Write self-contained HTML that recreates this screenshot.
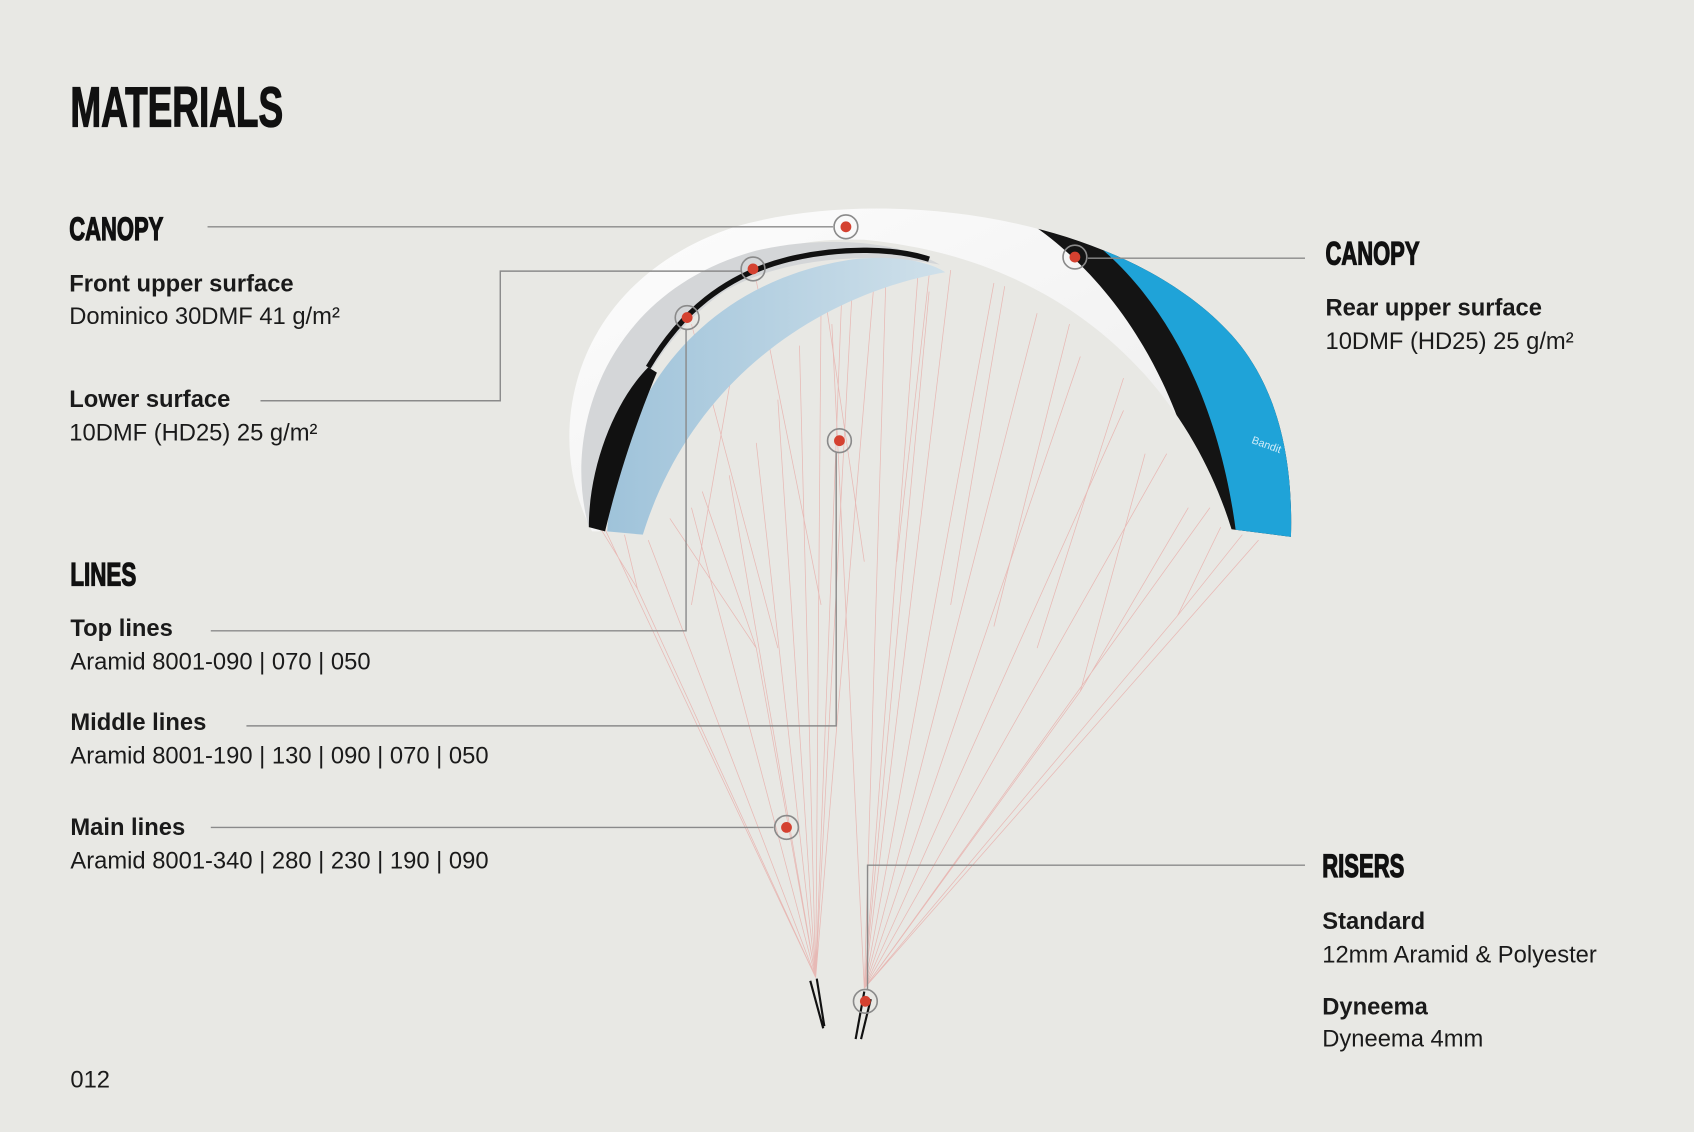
<!DOCTYPE html>
<html><head><meta charset="utf-8"><style>
html,body{margin:0;padding:0;background:#e8e8e4;}
svg{display:block}
.h{font-family:"Liberation Sans Narrow","Liberation Sans",sans-serif;font-weight:bold;fill:#111;stroke:#111;stroke-width:1.2;}
.b{font-family:"Liberation Sans",sans-serif;font-weight:bold;fill:#1a1a1a;font-size:22px;}
.r{font-family:"Liberation Sans",sans-serif;fill:#1a1a1a;font-size:22px;}
.ln{stroke:#8a8a8a;stroke-width:1.3;fill:none}
.rl{stroke:#e79a96;stroke-width:0.7;opacity:0.6;fill:none}
</style></head><body>
<svg width="1694" height="1132" viewBox="0 0 1568 1048" xmlns="http://www.w3.org/2000/svg">
<rect width="1568" height="1048" fill="#e8e8e4"/>
<defs>
<linearGradient id="wg" x1="0" y1="0" x2="1" y2="1">
<stop offset="0" stop-color="#ffffff"/><stop offset="0.6" stop-color="#f2f2f2"/><stop offset="1" stop-color="#d8d8d8"/>
</linearGradient>
<linearGradient id="lb" x1="0" y1="0" x2="1" y2="0">
<stop offset="0" stop-color="#9fc3da"/><stop offset="1" stop-color="#cfe0ea"/>
</linearGradient>
<clipPath id="cp"><path d="M548,492 C500,400 530,260 680,210 C820,170 1040,200 1140,310 C1185,360 1197,430 1195,497 L1140,490 C1100,360 990,240 800,222 C650,215 560,320 555,492 Z"/></clipPath>
</defs>

<!-- lines -->
<g class="rl">
<path d="M755,905 L560,490 M755,905 L590,545 L555,488 M590,545 L578,495 M755,905 L600,500 M755,905 L640,470 M755,905 L675,440 M755,905 L700,410 M755,905 L720,370 M755,905 L740,320 M755,905 L760,280 M755,905 L780,250 M755,905 L700,600 L620,480 M700,600 L650,455 M755,905 L790,245 M755,905 L810,250"/>
<path d="M800,915 L1165,500 M800,915 L1090,570 L1150,495 M1090,570 L1130,488 M800,915 L1120,470 M800,915 L1080,420 M800,915 L1040,380 M800,915 L1000,330 M800,915 L960,290 M800,915 L920,262 M800,915 L880,250 M800,915 L850,250 M800,915 L820,258 M800,915 L1000,640 L1100,470 M1000,640 L1060,420 M800,915 L770,300 M800,915 L860,270"/>
<path d="M640,300 L720,600 M700,260 L760,560 M860,255 L830,520 M930,265 L880,560 M990,300 L920,580 M1040,350 L960,600 M760,250 L800,520 M680,330 L640,560"/>
</g>

<!-- canopy -->
<g clip-path="url(#cp)">
<rect x="480" y="150" width="800" height="400" fill="url(#wg)"/>
<path d="M935,195 C1030,250 1100,360 1118,500 L1260,500 L1260,150 Z" fill="#141414"/>
<path d="M985,205 C1075,260 1130,370 1145,500 L1260,500 L1260,150 Z" fill="#1fa3d8"/>
</g>
<path d="M545,488 C520,400 560,270 700,232 C760,218 830,222 870,245 C800,232 720,240 670,270 C600,320 565,400 560,490 Z" fill="#d4d6d8"/>
<path d="M562,492 C568,380 640,262 790,240 C830,236 860,242 875,252 C760,272 640,350 595,495 Z" fill="url(#lb)"/>
<path d="M545,488 C545,430 570,370 600,340 L608,345 C585,400 570,450 560,492 Z" fill="#111"/>
<path d="M600,340 C630,290 670,255 730,240 C780,228 830,230 860,240" stroke="#111" stroke-width="5" fill="none"/>
<text x="1158" y="410" font-family="Liberation Sans,sans-serif" font-size="10" fill="#d0ecf8" transform="rotate(20 1158 410)">Bandit</text>

<!-- risers -->
<g stroke="#111" stroke-width="2">
<path d="M750,908 L762,952 M756,906 L763,950 M800,918 L792,962 M806,925 L797,962"/>
</g>

<!-- connectors -->
<path class="ln" d="M192,210 H771"/>
<path class="ln" d="M241,371 H463 V251 H686"/>
<path class="ln" d="M195,584 H635 V305"/>
<path class="ln" d="M228,672 H774 V419"/>
<path class="ln" d="M195,766 H716"/>
<path class="ln" d="M1007,239 H1208"/>
<path class="ln" d="M1208,801 H803 V916"/>

<g fill="none" stroke="#8a8a8a" stroke-width="1.5">
<circle cx="783" cy="210" r="11"/><circle cx="697" cy="249" r="11"/><circle cx="636" cy="294" r="11"/>
<circle cx="777" cy="408" r="11"/><circle cx="728" cy="766" r="11"/><circle cx="995" cy="238" r="11"/><circle cx="801" cy="927" r="11"/>
</g>
<g fill="#d44130">
<circle cx="783" cy="210" r="5"/><circle cx="697" cy="249" r="5"/><circle cx="636" cy="294" r="5"/>
<circle cx="777" cy="408" r="5"/><circle cx="728" cy="766" r="5"/><circle cx="995" cy="238" r="5"/><circle cx="801" cy="927" r="5"/>
</g>

<!-- text -->
<text class="h" x="65" y="117" font-size="52" textLength="197" lengthAdjust="spacingAndGlyphs">MATERIALS</text>
<text class="h" x="64" y="222" font-size="30" textLength="87" lengthAdjust="spacingAndGlyphs">CANOPY</text>
<text class="b" x="64" y="270">Front upper surface</text>
<text class="r" x="64" y="300">Dominico 30DMF 41 g/m²</text>
<text class="b" x="64" y="377">Lower surface</text>
<text class="r" x="64" y="408">10DMF (HD25) 25 g/m²</text>
<text class="h" x="65" y="542" font-size="30" textLength="61" lengthAdjust="spacingAndGlyphs">LINES</text>
<text class="b" x="65" y="589">Top lines</text>
<text class="r" x="65" y="620">Aramid 8001-090 | 070 | 050</text>
<text class="b" x="65" y="676">Middle lines</text>
<text class="r" x="65" y="707">Aramid 8001-190 | 130 | 090 | 070 | 050</text>
<text class="b" x="65" y="773">Main lines</text>
<text class="r" x="65" y="804">Aramid 8001-340 | 280 | 230 | 190 | 090</text>
<text class="h" x="1227" y="245" font-size="30" textLength="87" lengthAdjust="spacingAndGlyphs">CANOPY</text>
<text class="b" x="1227" y="292">Rear upper surface</text>
<text class="r" x="1227" y="323">10DMF (HD25) 25 g/m²</text>
<text class="h" x="1224" y="812" font-size="30" textLength="76" lengthAdjust="spacingAndGlyphs">RISERS</text>
<text class="b" x="1224" y="860">Standard</text>
<text class="r" x="1224" y="891">12mm Aramid &amp; Polyester</text>
<text class="b" x="1224" y="939">Dyneema</text>
<text class="r" x="1224" y="969">Dyneema 4mm</text>
<text class="r" x="65" y="1007" font-size="17">012</text>
</svg>
</body></html>
